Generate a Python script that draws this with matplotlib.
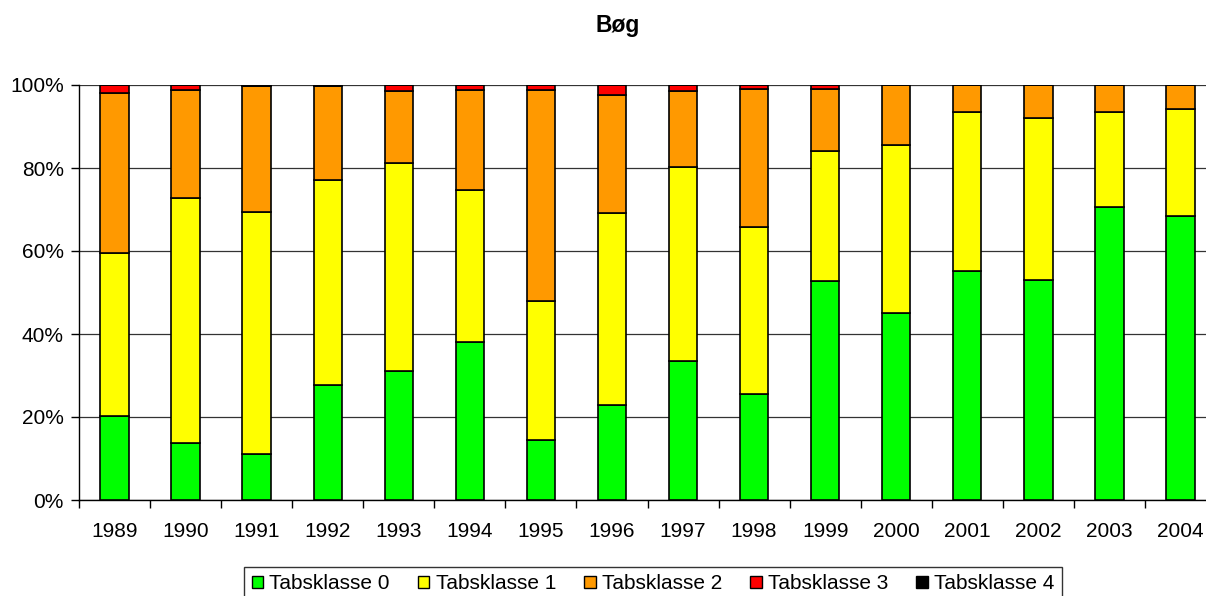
import numpy as np
import matplotlib
matplotlib.use("Agg")
import matplotlib.pyplot as plt
from matplotlib.patches import Patch

# ------------- data (percent of trees per class) -------------
years = ["1989", "1990", "1991", "1992", "1993", "1994", "1995", "1996",
         "1997", "1998", "1999", "2000", "2001", "2002", "2003", "2004"]

klasse0 = [20.2, 13.8, 11.1, 27.7, 31.1, 38.0, 14.5, 22.9,
           33.4, 25.5, 52.8, 45.1, 55.1, 52.9, 70.5, 68.5]
klasse1 = [39.3, 58.9, 58.3, 49.3, 50.2, 36.7, 33.4, 46.3,
           46.9, 40.4, 31.2, 40.4, 38.3, 39.1, 23.1, 25.7]
klasse2 = [38.6, 26.2, 30.3, 22.7, 17.2, 24.2, 51.0, 28.4,
           18.2, 33.2, 15.1, 14.5, 6.6, 8.0, 6.4, 5.8]
klasse3 = [1.9, 1.1, 0.0, 0.0, 1.5, 1.1, 1.1, 2.4,
           1.5, 0.9, 0.9, 0.0, 0.0, 0.0, 0.0, 0.0]
klasse4 = [0.0, 0.0, 0.3, 0.3, 0.0, 0.0, 0.0, 0.0,
           0.0, 0.0, 0.0, 0.0, 0.0, 0.0, 0.0, 0.0]

series = [klasse0, klasse1, klasse2, klasse3, klasse4]
labels = ["Tabsklasse 0", "Tabsklasse 1", "Tabsklasse 2", "Tabsklasse 3", "Tabsklasse 4"]
colors = ["#00FF00", "#FFFF00", "#FF9900", "#FF0000", "#000000"]

# ------------- styling -------------
plt.rcParams["font.family"] = ["Liberation Sans", "DejaVu Sans"]
FS = 15

fig = plt.figure(figsize=(12.06, 5.96), dpi=100)
ax = fig.add_axes([79 / 1206, 96 / 596, 1137 / 1206, 415 / 596])

x = np.arange(len(years))
bottom = np.zeros(len(years))
for vals, col in zip(series, colors):
    vals = np.array(vals)
    ax.bar(x, vals, bottom=bottom, width=0.4, color=col,
           edgecolor="black", linewidth=1.2, zorder=3)
    bottom += vals

ax.set_xlim(-0.5, len(years) - 0.5)
ax.set_ylim(0, 100)

# grid
ax.set_yticks(np.arange(0, 101, 20))
ax.set_yticklabels([f"{v}%" for v in range(0, 101, 20)], fontsize=FS)
ax.yaxis.grid(True, color="#333333", linewidth=0.9, zorder=0)
ax.tick_params(axis="y", length=6, width=1, pad=5)

# category labels in the middle, tick marks between categories
ax.set_xticks(x)
ax.set_xticklabels(years, fontsize=FS)
ax.set_xticks(np.arange(-0.5, len(years)), minor=True)
ax.tick_params(axis="x", which="major", length=0, pad=16)
ax.tick_params(axis="x", which="minor", length=6, width=1)

for s in ["top", "right"]:
    ax.spines[s].set_visible(False)
ax.spines["left"].set_linewidth(1.0)
ax.spines["bottom"].set_linewidth(1.0)

fig.text(0.512, 0.957, "Bøg", fontsize=16.5, fontweight="bold",
         ha="center", va="center")

handles = [Patch(facecolor=c, edgecolor="black", linewidth=1) for c in colors]
leg = fig.legend(handles, labels, loc="lower center", bbox_to_anchor=(0.5415, -0.018),
                 ncol=5, fontsize=FS, frameon=True, fancybox=False,
                 handlelength=0.55, handleheight=0.55, handletextpad=0.3,
                 columnspacing=1.35, borderpad=0.35, borderaxespad=0.3)
leg.get_frame().set_edgecolor("black")
leg.get_frame().set_linewidth(1.0)

fig.savefig("out.png", dpi=100)
